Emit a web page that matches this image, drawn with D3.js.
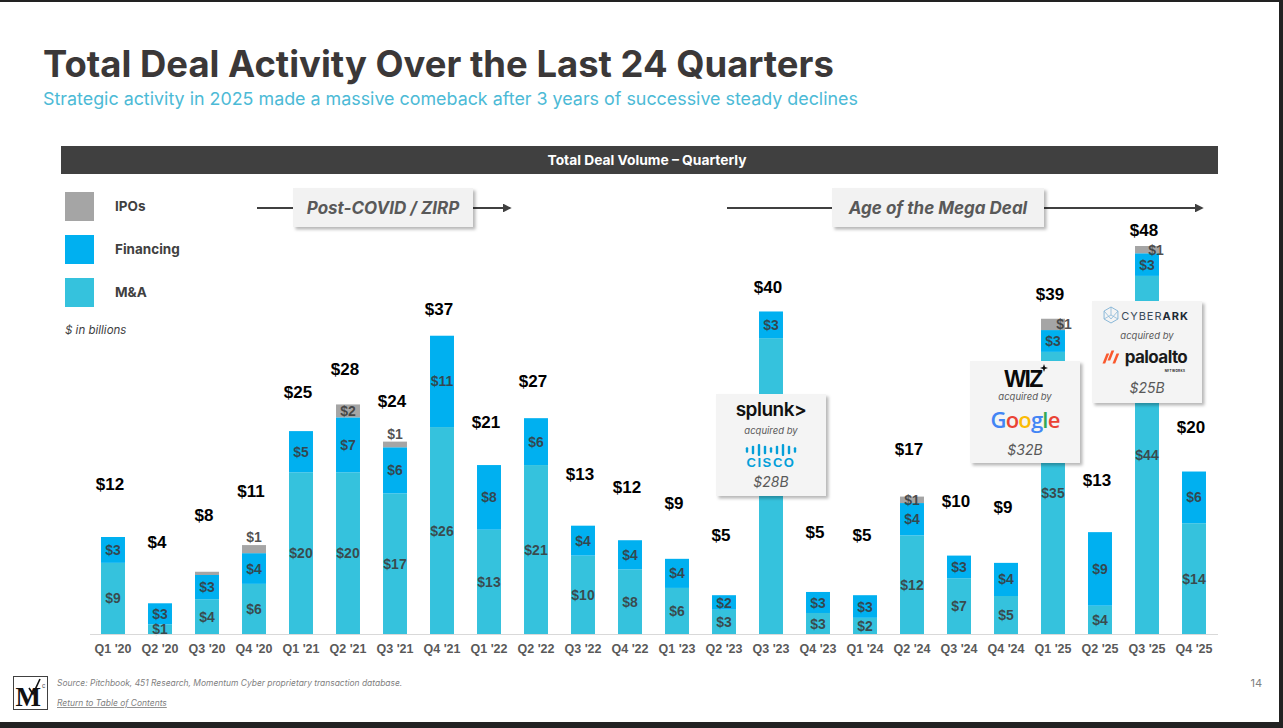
<!DOCTYPE html>
<html>
<head>
<meta charset="utf-8">
<script src="https://cdn.jsdelivr.net/npm/d3@7"></script>
<style>
  html, body { margin: 0; padding: 0; background: #fff; }
  svg { display: block; }
</style>
</head>
<body>
<div id="chart"></div>
<script>
// ---- data ($ in billions) ----
const quarters = ["Q1 '20", "Q2 '20", "Q3 '20", "Q4 '20", "Q1 '21", "Q2 '21", "Q3 '21", "Q4 '21",
  "Q1 '22", "Q2 '22", "Q3 '22", "Q4 '22", "Q1 '23", "Q2 '23", "Q3 '23", "Q4 '23",
  "Q1 '24", "Q2 '24", "Q3 '24", "Q4 '24", "Q1 '25", "Q2 '25", "Q3 '25", "Q4 '25"];
const maValues = [8.8, 1.2, 4.3, 6.2, 20.0, 20.0, 17.4, 25.6, 12.9, 20.9, 9.7, 8.0,
  5.7, 3.0, 36.6, 2.6, 2.0, 12.2, 6.9, 4.7, 34.9, 3.5, 44.3, 13.7];
const financingValues = [3.2, 2.6, 3.0, 3.8, 5.1, 6.8, 5.7, 11.3, 8.0, 5.8, 3.7, 3.6,
  3.6, 1.8, 3.3, 2.6, 2.8, 4.0, 2.8, 4.1, 2.7, 9.1, 2.8, 6.4];
const ipoValues = [0, 0, 0.4, 1.0, 0, 1.6, 0.7, 0, 0, 0, 0, 0,
  0, 0, 0, 0, 0, 0.8, 0, 0, 1.4, 0, 0.9, 0];

const seriesKeys = ["ma", "financing", "ipo"];
const legendLabels = ["IPOs", "Financing", "M&A"];
const legendKeys = ["ipo", "financing", "ma"];

const phaseLabels = ["Post-COVID / ZIRP", "Age of the Mega Deal"];
const phaseStart = ["Q4 '20", "Q2 '23"];
const phaseEnd = ["Q1 '22", "Q4 '25"];

const dealTargets = ["splunk", "wiz", "cyberark"];
const dealAcquirers = ["cisco", "google", "paloalto"];
const dealValues = [28, 32, 25];
const dealQuarters = ["Q3 '23", "Q1 '25", "Q3 '25"];

// ---- style / layout ----
const W = 1283, H = 728;
const colors = { ma: "#35c2dd", financing: "#00b0f0", ipo: "#a5a5a5" };
const fontSans = "Inter, 'Open Sans', sans-serif";
const fontNum = "'Liberation Sans', Arial, sans-serif";
const phaseBox = { w: [180, 212], cx: [383, 938], top: 188, h: 39, lineY: 208 };
const dealBox = { w: 110, h: 102, top: [394, 361, 301], dx: [0, -28, 0] };

const table = quarters.map((q, i) => ({
  quarter: q, ma: maValues[i], financing: financingValues[i], ipo: ipoValues[i],
  total: maValues[i] + financingValues[i] + ipoValues[i]
}));

const svg = d3.select("#chart").append("svg")
  .attr("width", W).attr("height", H)
  .attr("viewBox", `0 0 ${W} ${H}`);

const defs = svg.append("defs");
defs.append("filter").attr("id", "shadow")
  .attr("x", "-10%").attr("y", "-10%").attr("width", "130%").attr("height", "130%")
  .append("feDropShadow")
  .attr("dx", 2.5).attr("dy", 2.5).attr("stdDeviation", 1.8)
  .attr("flood-color", "#000").attr("flood-opacity", 0.28);
defs.append("marker").attr("id", "arrow")
  .attr("viewBox", "0 0 10 10").attr("refX", 8).attr("refY", 5)
  .attr("markerWidth", 4).attr("markerHeight", 4).attr("orient", "auto")
  .append("path").attr("d", "M0,0 L10,5 L0,10 z").attr("fill", "#404040");

// page frame
svg.append("rect").attr("width", W).attr("height", H).attr("fill", "#fff");
svg.append("rect").attr("x", 0).attr("y", 0).attr("width", W).attr("height", 2).attr("fill", "#222");
svg.append("rect").attr("x", W - 4).attr("y", 0).attr("width", 4).attr("height", H).attr("fill", "#222");
svg.append("rect").attr("x", 0).attr("y", 722).attr("width", W).attr("height", 6).attr("fill", "#222");

function fitWidth(sel, target) {
  const len = sel.node().getComputedTextLength();
  const fs = parseFloat(sel.attr("font-size"));
  if (len > 0) sel.attr("font-size", fs * target / len);
  return sel;
}

// title
fitWidth(svg.append("text")
  .attr("x", 43).attr("y", 77)
  .attr("font-family", fontSans).attr("font-weight", 700).attr("font-size", 36)
  .attr("fill", "#3b3838")
  .text("Total Deal Activity Over the Last 24 Quarters"), 791);

fitWidth(svg.append("text")
  .attr("x", 43).attr("y", 105)
  .attr("font-family", fontSans).attr("font-size", 17)
  .attr("fill", "#4cbad6")
  .text("Strategic activity in 2025 made a massive comeback after 3 years of successive steady declines"), 815);

// header bar
svg.append("rect").attr("x", 61).attr("y", 146).attr("width", 1157).attr("height", 28).attr("fill", "#404040");
fitWidth(svg.append("text")
  .attr("x", 647).attr("y", 165).attr("text-anchor", "middle")
  .attr("font-family", fontSans).attr("font-weight", 700).attr("font-size", 13)
  .attr("fill", "#fff")
  .text("Total Deal Volume – Quarterly"), 199);

// legend
const legend = svg.append("g");
legendKeys.forEach((k, i) => {
  const gy = 192 + i * 43;
  legend.append("rect").attr("x", 65).attr("y", gy).attr("width", 29).attr("height", 29).attr("fill", colors[k]);
  legend.append("text").attr("x", 115).attr("y", gy + 19)
    .attr("font-family", fontSans).attr("font-weight", 700).attr("font-size", 13.5)
    .attr("fill", "#404040").text(legendLabels[i]);
});
svg.append("text").attr("x", 65).attr("y", 334)
  .attr("font-family", fontSans).attr("font-style", "italic").attr("font-size", 11.5)
  .attr("fill", "#404040").text("$ in billions");

// scales
const x = d3.scaleBand().domain(quarters).range([89.5, 1217.5])
  .paddingInner(0.49).paddingOuter(0.245);
const y = d3.scaleLinear().domain([0, 48]).range([634, 246]);
const yTotal = d3.scaleLinear().domain([0, 48]).range([569, 230]);
const bw = x.bandwidth();

const stacked = d3.stack().keys(seriesKeys)(table);

// deal boxes' extents, used to skip labels they cover
const dealRects = dealTargets.map((t, i) => {
  const cx = x(dealQuarters[i]) + bw / 2 + dealBox.dx[i];
  return { cx, x0: cx - dealBox.w / 2, x1: cx + dealBox.w / 2, y0: dealBox.top[i], y1: dealBox.top[i] + dealBox.h };
});
const covered = (px, py) => dealRects.some(r => px > r.x0 && px < r.x1 && py > r.y0 && py < r.y1);

// bars
const barG = svg.append("g");
stacked.forEach(layer => {
  barG.selectAll(null).data(layer).join("rect")
    .attr("x", d => x(d.data.quarter))
    .attr("y", d => y(d[1]))
    .attr("width", bw)
    .attr("height", d => Math.max(0, y(d[0]) - y(d[1])))
    .attr("fill", colors[layer.key]);
});

// axis
const axisG = svg.append("g").attr("transform", "translate(0,634)")
  .call(d3.axisBottom(x).tickSize(0).tickPadding(10));
axisG.select(".domain").attr("stroke", "#d9d9d9").attr("stroke-width", 1.2);
axisG.selectAll("text")
  .attr("font-family", fontNum).attr("font-weight", 700).attr("font-size", 12.5)
  .attr("fill", "#595959");

// segment labels
const fmt = v => "$" + Math.round(v);
const ipoShift = { "Q1 '25": 11, "Q3 '25": 9 };
const segX = (d, key) => x(d.data.quarter) + bw / 2 + (key === "ipo" ? (ipoShift[d.data.quarter] || 0) : 0);
const segY = (d, key) => {
  const v = d[1] - d[0];
  if (key === "ipo" && !ipoShift[d.data.quarter] && (v < 0.75 || d.data.quarter === "Q4 '20")) return y(d[1]) - 8;
  return (y(d[0]) + y(d[1])) / 2;
};
stacked.forEach(layer => {
  const k = layer.key;
  barG.selectAll(null)
    .data(layer.filter(d => Math.round(d[1] - d[0]) >= 1 && !covered(segX(d, k), segY(d, k))))
    .join("text")
    .attr("x", d => segX(d, k))
    .attr("y", d => segY(d, k))
    .attr("dy", "0.36em")
    .attr("text-anchor", "middle")
    .attr("font-family", fontNum).attr("font-weight", 700).attr("font-size", 14)
    .attr("fill", "#3a3a3a").attr("fill-opacity", 0.88)
    .text(d => fmt(d[1] - d[0]));
});

// total labels
svg.append("g").selectAll("text").data(table).join("text")
  .attr("x", d => x(d.quarter) + bw / 2 - 3)
  .attr("y", d => yTotal(d.total))
  .attr("dy", "0.36em")
  .attr("text-anchor", "middle")
  .attr("font-family", fontNum).attr("font-weight", 700).attr("font-size", 17)
  .attr("fill", "#000")
  .text(d => fmt(d.total));

// phase arrows
phaseLabels.forEach((label, i) => {
  const g = svg.append("g");
  const x0 = x(phaseStart[i]) + bw / 2 + 3;
  const x1 = x(phaseEnd[i]) + bw + (i === 0 ? 9 : -4);
  const bx0 = phaseBox.cx[i] - phaseBox.w[i] / 2, bx1 = phaseBox.cx[i] + phaseBox.w[i] / 2;
  g.append("line").attr("x1", x0).attr("x2", bx0).attr("y1", phaseBox.lineY).attr("y2", phaseBox.lineY)
    .attr("stroke", "#404040").attr("stroke-width", 2.2);
  g.append("line").attr("x1", bx1).attr("x2", x1).attr("y1", phaseBox.lineY).attr("y2", phaseBox.lineY)
    .attr("stroke", "#404040").attr("stroke-width", 2.2).attr("marker-end", "url(#arrow)");
  g.append("rect").attr("x", bx0).attr("y", phaseBox.top).attr("width", phaseBox.w[i]).attr("height", phaseBox.h)
    .attr("fill", "#f2f2f2").attr("filter", "url(#shadow)");
  g.append("text").attr("x", phaseBox.cx[i]).attr("y", phaseBox.top + 26)
    .attr("text-anchor", "middle")
    .attr("font-family", fontSans).attr("font-style", "italic").attr("font-weight", 700).attr("font-size", 17)
    .attr("fill", "#595959").text(label);
});

// ---- deal logos (simple vector / text stand-ins) ----
const logos = {
  splunk(g, cx, yb) {
    g.append("text").attr("x", cx).attr("y", yb).attr("text-anchor", "middle")
      .attr("font-family", fontSans).attr("font-weight", 600).attr("font-size", 19)
      .attr("letter-spacing", -0.5).attr("fill", "#111").text("splunk>");
  },
  cisco(g, cx, yb) {
    const hs = [0.45, 0.7, 1, 0.7, 0.45, 0.7, 1, 0.7, 0.45];
    const step = 6;
    g.selectAll(null).data(hs).join("rect")
      .attr("x", (d, i) => cx - (hs.length - 1) * step / 2 + i * step - 1.2)
      .attr("y", d => yb - 17 - d * 6)
      .attr("width", 2.4).attr("height", d => d * 12).attr("rx", 1)
      .attr("fill", "#049fd9");
    g.append("text").attr("x", cx).attr("y", yb).attr("text-anchor", "middle")
      .attr("font-family", fontNum).attr("font-weight", 700).attr("font-size", 13)
      .attr("letter-spacing", 1.6).attr("fill", "#049fd9").text("CISCO");
  },
  wiz(g, cx, yb) {
    g.append("text").attr("x", cx - 2).attr("y", yb).attr("text-anchor", "middle")
      .attr("font-family", fontNum).attr("font-weight", 700).attr("font-size", 23)
      .attr("letter-spacing", -1.5).attr("fill", "#0a0a0a").text("WIZ");
    const sx = cx + 19, sy = yb - 19;
    g.append("path")
      .attr("d", `M${sx},${sy - 4} L${sx + 1},${sy - 1} L${sx + 4},${sy} L${sx + 1},${sy + 1} L${sx},${sy + 4} L${sx - 1},${sy + 1} L${sx - 4},${sy} L${sx - 1},${sy - 1} Z`)
      .attr("fill", "#0a0a0a");
  },
  google(g, cx, yb) {
    const t = g.append("text").attr("x", cx).attr("y", yb).attr("text-anchor", "middle")
      .attr("font-family", "'Open Sans', sans-serif").attr("font-weight", 600).attr("font-size", 22)
      .attr("letter-spacing", -0.8);
    const letters = [["G", "#4285f4"], ["o", "#ea4335"], ["o", "#fbbc05"], ["g", "#4285f4"], ["l", "#34a853"], ["e", "#ea4335"]];
    letters.forEach(([c, col]) => t.append("tspan").attr("fill", col).text(c));
  },
  cyberark(g, cx, yb) {
    const ix = cx - 36, iy = yb - 5;
    const hex = d3.range(6).map(k => {
      const a = Math.PI / 3 * k - Math.PI / 2;
      return [ix + 8 * Math.cos(a), iy + 8 * Math.sin(a)];
    });
    g.append("path").attr("d", "M" + hex.join("L") + "Z")
      .attr("fill", "none").attr("stroke", "#8ab8d8").attr("stroke-width", 1);
    g.append("path").attr("d", `M${ix},${iy - 8} L${ix},${iy} L${hex[2][0]},${hex[2][1]} M${ix},${iy} L${hex[4][0]},${hex[4][1]} M${hex[1][0]},${hex[1][1]} L${ix},${iy + 4} L${hex[5][0]},${hex[5][1]}`)
      .attr("fill", "none").attr("stroke", "#8ab8d8").attr("stroke-width", 0.8);
    const t = g.append("text").attr("x", cx + 8).attr("y", yb).attr("text-anchor", "middle")
      .attr("font-family", fontSans).attr("font-size", 11).attr("letter-spacing", 1).attr("fill", "#3a4a5a");
    t.append("tspan").text("CYBER");
    t.append("tspan").attr("font-weight", 700).attr("fill", "#1f2a36").text("ARK");
  },
  paloalto(g, cx, yb) {
    const ix = cx - 42, iy = yb - 6;
    [0, 5, 10].forEach((ox, k) => {
      const px = ix + ox, py = iy + (k === 1 ? -1.5 : 1.5);
      g.append("path")
        .attr("d", `M${px - 2.5},${py + 5} L${px + 1.5},${py - 5} L${px + 4.2},${py - 5} L${px + 0.2},${py + 5} Z`)
        .attr("fill", "#fa582d");
    });
    g.append("text").attr("x", cx + 9).attr("y", yb).attr("text-anchor", "middle")
      .attr("font-family", fontSans).attr("font-weight", 700).attr("font-size", 17)
      .attr("letter-spacing", -0.6).attr("fill", "#1b1b1b").text("paloalto");
    g.append("text").attr("x", cx + 28).attr("y", yb + 8.5).attr("text-anchor", "middle")
      .attr("font-family", fontSans).attr("font-weight", 700).attr("font-size", 3)
      .attr("letter-spacing", 0.4).attr("fill", "#1b1b1b").text("NETWORKS");
  }
};
// vertical layout inside each box: [target baseline, "acquired by", acquirer baseline, value baseline]
const dealRows = [[22, 40, 73, 93], [26, 39, 67, 94], [19, 38, 62, 92]];

dealTargets.forEach((t, i) => {
  const { cx, x0, y0 } = dealRects[i];
  const g = svg.append("g");
  g.append("rect").attr("x", x0).attr("y", y0)
    .attr("width", dealBox.w).attr("height", dealBox.h)
    .attr("fill", "#f4f4f4").attr("filter", "url(#shadow)");
  const r = dealRows[i];
  logos[t](g, cx, y0 + r[0]);
  g.append("text").attr("x", cx).attr("y", y0 + r[1]).attr("text-anchor", "middle")
    .attr("font-family", fontSans).attr("font-style", "italic").attr("font-size", 9.5)
    .attr("fill", "#595959").text("acquired by");
  logos[dealAcquirers[i]](g, cx, y0 + r[2]);
  g.append("text").attr("x", cx).attr("y", y0 + r[3]).attr("text-anchor", "middle")
    .attr("font-family", fontSans).attr("font-style", "italic").attr("font-size", 14)
    .attr("fill", "#595959").text("$" + dealValues[i] + "B");
});

// footer
const foot = svg.append("g");
foot.append("rect").attr("x", 13.5).attr("y", 676.5).attr("width", 34).attr("height", 33)
  .attr("fill", "#fff").attr("stroke", "#404040").attr("stroke-width", 1);
foot.append("text").attr("x", 15.5).attr("y", 706)
  .attr("font-family", "'Liberation Serif', serif").attr("font-weight", 700).attr("font-size", 27)
  .attr("fill", "#111").text("M");
foot.append("path").attr("d", "M29,688 L33,694 L40,679").attr("fill", "none")
  .attr("stroke", "#111").attr("stroke-width", 1.6);
foot.append("text").attr("x", 42).attr("y", 688)
  .attr("font-family", fontNum).attr("font-size", 6.5).attr("fill", "#555").text("c");
fitWidth(foot.append("text").attr("x", 57).attr("y", 686)
  .attr("font-family", fontSans).attr("font-style", "italic").attr("font-size", 8)
  .attr("fill", "#7f7f7f").text("Source: Pitchbook, 451 Research, Momentum Cyber proprietary transaction database."), 346);
fitWidth(foot.append("text").attr("x", 57).attr("y", 706)
  .attr("font-family", fontSans).attr("font-style", "italic").attr("font-size", 8)
  .attr("text-decoration", "underline")
  .attr("fill", "#7f7f7f").text("Return to Table of Contents"), 110);
foot.append("text").attr("x", 1262).attr("y", 687).attr("text-anchor", "end")
  .attr("font-family", fontSans).attr("font-size", 11)
  .attr("fill", "#7f7f7f").text("14");
</script>
</body>
</html>
